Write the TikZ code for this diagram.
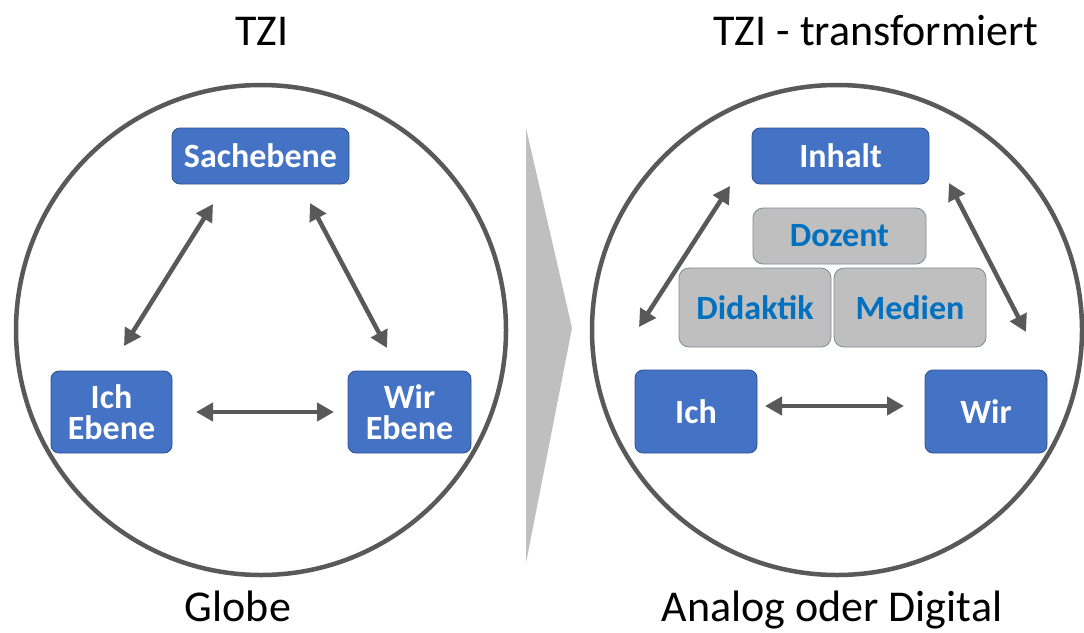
\documentclass[tikz,border=0pt]{standalone}
\usepackage{fontspec}
\setmainfont{Carlito}
\usetikzlibrary{arrows.meta}
\definecolor{boxblue}{HTML}{4472C4}
\definecolor{boxblueedge}{HTML}{2F528F}
\definecolor{boxgray}{HTML}{BFBFBF}
\definecolor{boxgrayedge}{HTML}{7F8A99}
\definecolor{txtblue}{HTML}{0070C0}
\definecolor{ringgray}{HTML}{595959}
\definecolor{chevgray}{HTML}{BFBFBF}
\tikzset{
  bluebox/.style={draw=boxblueedge, line width=0.8pt, fill=boxblue, rounded corners=8pt,
    text=white, font=\bfseries\fontsize{34}{38}\selectfont, align=center, inner sep=0pt},
  graybox/.style={draw=boxgrayedge, line width=0.8pt, fill=boxgray, rounded corners=10pt,
    text=txtblue, font=\bfseries\fontsize{34}{38}\selectfont, align=center, inner sep=0pt},
  ring/.style={draw=ringgray, line width=4.5pt},
  dbl/.style={draw=ringgray, line width=4.5pt, {Triangle[length=17pt,width=18pt]}-{Triangle[length=17pt,width=18pt]}},
  titletext/.style={font=\fontsize{44}{48}\selectfont, text=black, inner sep=0pt}
}
\begin{document}
\begin{tikzpicture}[x=1pt,y=-1pt]
\useasboundingbox (0,0) rectangle (1084,632);
\fill[white] (0,0) rectangle (1084,632);
% titles
\node[titletext, anchor=base] (t1) at (262,45) {TZI};
\node[titletext, anchor=base] (t2) at (876,45) {TZI - transformiert};
\node[titletext, anchor=base] (b1) at (238,621) {Globe};
\node[titletext, anchor=base] (b2) at (832,621) {Analog oder Digital};
% circles
\node[ring, circle, minimum size=490pt, inner sep=0pt] (c1) at (261,330) {};
\node[ring, circle, minimum size=490pt, inner sep=0pt] (c2) at (837,330) {};
% chevron
\fill[chevgray] (526,128) -- (572,328) -- (526,563) -- cycle;
% left boxes
\node[bluebox, minimum width=177pt, minimum height=56pt] (sache) at (260.5,156) {Sachebene};
\node[bluebox, minimum width=121pt, minimum height=82pt] (ich1) at (111.5,412) {Ich\\[-7pt]Ebene};
\node[bluebox, minimum width=123pt, minimum height=82pt] (wir1) at (409.5,412) {Wir\\[-7pt]Ebene};
% right boxes
\node[bluebox, minimum width=177pt, minimum height=56pt] (inhalt) at (840.5,156) {Inhalt};
\node[graybox, minimum width=173pt, minimum height=56pt] (dozent) at (839.5,236) {Dozent};
\node[graybox, minimum width=152pt, minimum height=79pt] (didaktik) at (755,307.5) {Didaktik};
\node[graybox, minimum width=152pt, minimum height=79pt] (medien) at (910,307.5) {Medien};
\node[bluebox, minimum width=122pt, minimum height=83pt] (ich2) at (696,411.5) {Ich};
\node[bluebox, minimum width=122pt, minimum height=83pt] (wir2) at (986,411.5) {Wir};
% arrow end points
\coordinate (a1s) at (213,204); \coordinate (a1e) at (124,346);
\coordinate (a2s) at (310,203); \coordinate (a2e) at (387,348);
\coordinate (a3s) at (196,412); \coordinate (a3e) at (334,412);
\coordinate (b1s) at (730,186); \coordinate (b1e) at (639,327);
\coordinate (b2s) at (949,183); \coordinate (b2e) at (1026,332);
\coordinate (b3s) at (765,406); \coordinate (b3e) at (904,406);
\draw[dbl] (a1s) -- (a1e);
\draw[dbl] (a2s) -- (a2e);
\draw[dbl] (a3s) -- (a3e);
\draw[dbl] (b1s) -- (b1e);
\draw[dbl] (b2s) -- (b2e);
\draw[dbl] (b3s) -- (b3e);
\end{tikzpicture}
\end{document}
